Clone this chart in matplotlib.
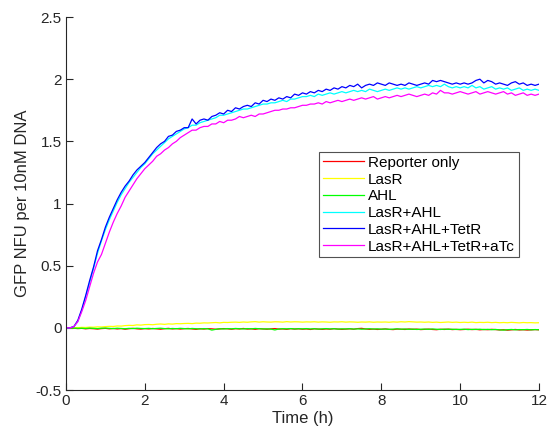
import numpy as np
import matplotlib
matplotlib.use("Agg")
import matplotlib.pyplot as plt

plt.rcParams['font.family'] = ['Liberation Sans', 'DejaVu Sans']

labels = ["Reporter only", "LasR", "AHL", "LasR+AHL", "LasR+AHL+TetR", "LasR+AHL+TetR+aTc"]
colors = ["#ff0000", "#ffff00", "#00ff00", "#00ffff", "#0000ff", "#ff00ff"]

# GFP readings every 6 min (0.1 h), 0 to 12 h
reporter_only = [
    0.000, 0.000, -0.003, -0.006, -0.004, -0.008, -0.005, -0.007, -0.010, -0.006, -0.004,
    -0.008, -0.005, -0.009, -0.006, -0.011, -0.007, -0.004, -0.008, -0.010, -0.006,
    -0.009, -0.005, -0.008, -0.011, -0.007, -0.004, -0.009, -0.006, -0.010, -0.007,
    -0.005, -0.009, -0.012, -0.007, -0.010, -0.006, -0.008, -0.011, -0.009, -0.006,
    -0.008, -0.011, -0.007, -0.009, -0.005, -0.010, -0.008, -0.012, -0.007, -0.009,
    -0.011, -0.008, -0.006, -0.010, -0.009, -0.012, -0.007, -0.010, -0.008, -0.011,
    -0.009, -0.013, -0.008, -0.010, -0.012, -0.009, -0.011, -0.007, -0.010, -0.012,
    -0.010, -0.008, -0.011, -0.006, -0.004, -0.009, -0.012, -0.010, -0.013, -0.011,
    -0.009, -0.012, -0.014, -0.010, -0.011, -0.013, -0.009, -0.012, -0.010, -0.014,
    -0.012, -0.010, -0.013, -0.015, -0.011, -0.013, -0.010, -0.014, -0.012, -0.015,
    -0.013, -0.011, -0.014, -0.012, -0.016, -0.013, -0.015, -0.012, -0.014, -0.017,
    -0.015, -0.019, -0.016, -0.013, -0.017, -0.015, -0.018, -0.016, -0.014, -0.016,
]
lasr = [
    0.000, 0.000, 0.002, 0.001, 0.004, 0.003, 0.006, 0.005, 0.008, 0.007, 0.010,
    0.012, 0.011, 0.015, 0.014, 0.018, 0.020, 0.019, 0.024, 0.022, 0.026,
    0.027, 0.025, 0.029, 0.031, 0.028, 0.032, 0.030, 0.034, 0.033, 0.035,
    0.036, 0.034, 0.038, 0.037, 0.040, 0.039, 0.041, 0.043, 0.040, 0.044,
    0.043, 0.045, 0.046, 0.044, 0.047, 0.045, 0.048, 0.050, 0.046, 0.049,
    0.047, 0.046, 0.049, 0.048, 0.046, 0.050, 0.047, 0.049, 0.048, 0.046,
    0.048, 0.047, 0.049, 0.046, 0.048, 0.047, 0.045, 0.048, 0.047, 0.049,
    0.046, 0.048, 0.047, 0.045, 0.047, 0.046, 0.048, 0.045, 0.047, 0.046,
    0.047, 0.045, 0.048, 0.046, 0.049, 0.047, 0.050, 0.048, 0.046, 0.047,
    0.045, 0.047, 0.044, 0.046, 0.043, 0.045, 0.047, 0.044, 0.046, 0.043,
    0.045, 0.043, 0.046, 0.042, 0.044, 0.043, 0.045, 0.042, 0.044, 0.041,
    0.043, 0.041, 0.044, 0.042, 0.040, 0.043, 0.041, 0.042, 0.040, 0.041,
]
ahl = [
    0.000, 0.000, -0.002, -0.004, -0.003, -0.005, -0.002, -0.004, -0.006, -0.003, -0.002,
    -0.004, -0.006, -0.003, -0.005, -0.007, -0.004, -0.006, -0.003, -0.005, -0.006,
    -0.004, -0.007, -0.005, -0.003, -0.006, -0.008, -0.005, -0.007, -0.004, -0.006,
    -0.008, -0.005, -0.007, -0.009, -0.006, -0.008, -0.018, -0.012, -0.007, -0.009,
    -0.006, -0.008, -0.005, -0.007, -0.009, -0.006, -0.008, -0.005, -0.007, -0.009,
    -0.008, -0.010, -0.017, -0.009, -0.007, -0.008, -0.006, -0.009, -0.007, -0.008,
    -0.006, -0.009, -0.007, -0.010, -0.008, -0.006, -0.009, -0.007, -0.010, -0.008,
    -0.009, -0.007, -0.010, -0.008, -0.011, -0.009, -0.007, -0.010, -0.008, -0.011,
    -0.009, -0.012, -0.010, -0.008, -0.011, -0.009, -0.012, -0.010, -0.013, -0.011,
    -0.010, -0.012, -0.009, -0.011, -0.013, -0.010, -0.012, -0.011, -0.013, -0.012,
    -0.011, -0.014, -0.012, -0.013, -0.011, -0.014, -0.012, -0.015, -0.013, -0.016,
    -0.018, -0.015, -0.013, -0.016, -0.014, -0.015, -0.013, -0.016, -0.014, -0.015,
]
lasr_ahl = [
    0.00, 0.00, 0.01, 0.05, 0.14, 0.25, 0.36, 0.48, 0.60, 0.70, 0.79,
    0.87, 0.94, 1.01, 1.07, 1.12, 1.17, 1.21, 1.25, 1.29, 1.32,
    1.36, 1.40, 1.43, 1.46, 1.49, 1.52, 1.54, 1.56, 1.58, 1.60,
    1.61, 1.63, 1.63, 1.65, 1.66, 1.67, 1.68, 1.69, 1.71, 1.71,
    1.72, 1.73, 1.74, 1.75, 1.76, 1.76, 1.77, 1.78, 1.79, 1.80,
    1.80, 1.81, 1.81, 1.82, 1.83, 1.82, 1.84, 1.84, 1.85, 1.86,
    1.86, 1.87, 1.86, 1.88, 1.87, 1.88, 1.89, 1.88, 1.89, 1.90,
    1.89, 1.90, 1.91, 1.90, 1.91, 1.90, 1.92, 1.91, 1.90, 1.91,
    1.92, 1.91, 1.92, 1.93, 1.92, 1.93, 1.92, 1.93, 1.94, 1.93,
    1.94, 1.95, 1.94, 1.95, 1.94, 1.96, 1.94, 1.93, 1.94, 1.93,
    1.94, 1.93, 1.95, 1.93, 1.94, 1.92, 1.93, 1.94, 1.92, 1.93,
    1.92, 1.93, 1.91, 1.92, 1.93, 1.91, 1.92, 1.91, 1.92, 1.91,
]
lasr_ahl_tetr = [
    0.00, 0.00, 0.01, 0.06, 0.15, 0.26, 0.38, 0.49, 0.62, 0.71, 0.81,
    0.89, 0.96, 1.03, 1.09, 1.14, 1.18, 1.23, 1.27, 1.30, 1.33,
    1.37, 1.41, 1.45, 1.48, 1.50, 1.54, 1.55, 1.58, 1.59, 1.61,
    1.61, 1.68, 1.64, 1.67, 1.68, 1.67, 1.70, 1.71, 1.73, 1.72,
    1.75, 1.74, 1.77, 1.76, 1.78, 1.79, 1.78, 1.81, 1.80, 1.83,
    1.82, 1.84, 1.83, 1.85, 1.84, 1.86, 1.85, 1.88, 1.87, 1.89,
    1.88, 1.90, 1.89, 1.91, 1.90, 1.92, 1.91, 1.93, 1.92, 1.94,
    1.93, 1.95, 1.94, 1.96, 1.93, 1.95, 1.96, 1.95, 1.97, 1.96,
    1.95, 1.97, 1.96, 1.95, 1.96, 1.95, 1.97, 1.96, 1.95, 1.96,
    1.97, 1.96, 1.99, 1.98, 1.99, 1.98, 1.97, 1.96, 1.97, 1.96,
    1.97, 1.96, 1.97, 1.99, 2.00, 1.97, 1.99, 1.98, 1.96, 1.97,
    1.96, 1.95, 1.97, 1.98, 1.96, 1.97, 1.95, 1.96, 1.95, 1.96,
]
lasr_ahl_tetr_atc = [
    0.00, 0.00, 0.01, 0.05, 0.13, 0.22, 0.33, 0.44, 0.53, 0.59, 0.68,
    0.77, 0.85, 0.92, 0.98, 1.05, 1.10, 1.15, 1.20, 1.24, 1.28,
    1.31, 1.34, 1.38, 1.40, 1.43, 1.45, 1.48, 1.50, 1.53, 1.55,
    1.57, 1.59, 1.59, 1.61, 1.62, 1.62, 1.64, 1.64, 1.66, 1.65,
    1.67, 1.67, 1.68, 1.70, 1.69, 1.70, 1.71, 1.70, 1.72, 1.72,
    1.73, 1.74, 1.75, 1.75, 1.76, 1.76, 1.77, 1.77, 1.78, 1.79,
    1.79, 1.80, 1.80, 1.81, 1.80, 1.82, 1.81, 1.82, 1.83, 1.82,
    1.83, 1.84, 1.83, 1.84, 1.85, 1.84, 1.85, 1.86, 1.84, 1.85,
    1.86, 1.85, 1.86, 1.87, 1.86, 1.87, 1.88, 1.87, 1.86, 1.87,
    1.88, 1.87, 1.89, 1.88, 1.91, 1.89, 1.89, 1.88, 1.89, 1.90,
    1.89, 1.88, 1.89, 1.90, 1.88, 1.89, 1.90, 1.89, 1.88, 1.89,
    1.90, 1.88, 1.89, 1.87, 1.88, 1.89, 1.87, 1.88, 1.87, 1.88,
]

series = [reporter_only, lasr, ahl, lasr_ahl, lasr_ahl_tetr, lasr_ahl_tetr_atc]
time_h = np.linspace(0, 12, len(reporter_only))

fig = plt.figure(figsize=(5.48, 4.32), dpi=100)
ax = fig.add_axes([0.1204, 0.0972, 0.8632, 0.8634])

for vals, lab, col in zip(series, labels, colors):
    ax.plot(time_h, vals, color=col, lw=0.9, label=lab)

ax.set_xlim(0, 12)
ax.set_ylim(-0.5, 2.5)
ax.set_xticks(np.arange(0, 13, 2))
yt = np.arange(-0.5, 2.51, 0.5)
ax.set_yticks(yt)
ax.set_yticklabels(["%g" % v for v in yt])

axis_col = "#262626"
for s in ["top", "right"]:
    ax.spines[s].set_visible(False)
for s in ["left", "bottom"]:
    ax.spines[s].set_color(axis_col)
    ax.spines[s].set_linewidth(0.8)
ax.tick_params(direction="in", length=5, width=0.8, color=axis_col,
               labelsize=11, labelcolor=axis_col, pad=3)

ax.set_xlabel("Time (h)", fontsize=12, color=axis_col, labelpad=2)
ax.set_ylabel("GFP NFU per 10nM DNA", fontsize=12, color=axis_col, labelpad=4)

leg = ax.legend(loc="upper left", bbox_to_anchor=(319 / 548, 1 - 152 / 432),
                bbox_transform=fig.transFigure, fontsize=11, frameon=True,
                fancybox=False, handlelength=2.7, handletextpad=0.25,
                labelspacing=0.18, borderpad=0.25, borderaxespad=0)
leg.get_frame().set_edgecolor(axis_col)
leg.get_frame().set_linewidth(0.8)

fig.savefig("out.png", dpi=100)
